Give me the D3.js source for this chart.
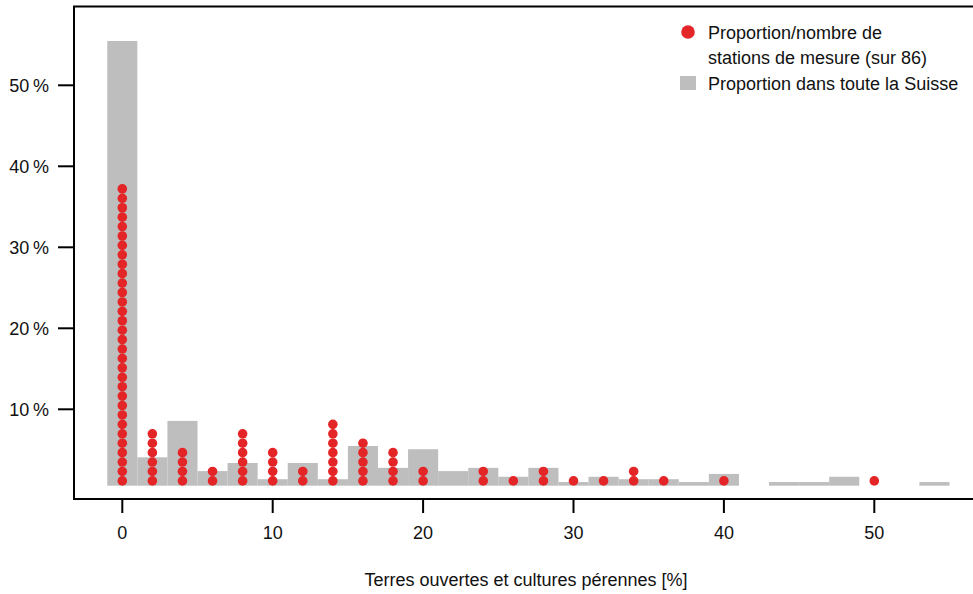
<!DOCTYPE html>
<html>
<head>
<meta charset="utf-8">
<script src="https://cdn.jsdelivr.net/npm/d3@7"></script>
<style>
  html, body { margin: 0; padding: 0; background: #fff; }
  svg { display: block; font-family: "Liberation Sans", Arial, sans-serif; }
</style>
</head>
<body>
<svg id="chart" width="973" height="594"></svg>
<script>
// Classes of "Terres ouvertes et cultures pérennes [%]" (bar centres)
const classes = [0, 2, 4, 6, 8, 10, 12, 14, 16, 18, 20, 22, 24, 26, 28, 30, 32, 34, 36, 38, 40, 42, 44, 46, 48, 50, 52, 54];
// Proportion dans toute la Suisse [%]
const suisseShare = [54.9, 3.5, 8.0, 1.8, 2.8, 0.8, 2.8, 0.8, 4.9, 2.2, 4.5, 1.8, 2.2, 1.1, 2.2, 0.45, 1.1, 0.8, 0.8, 0.45, 1.45, 0, 0.45, 0.45, 1.1, 0, 0, 0.45];
// Nombre de stations de mesure par classe (total 86)
const stationCounts = [32, 6, 4, 2, 6, 4, 2, 7, 5, 4, 2, 0, 2, 1, 2, 1, 1, 2, 1, 0, 1, 0, 0, 0, 0, 1, 0, 0];
const totalStations = 86;
const xTicks = [0, 10, 20, 30, 40, 50];
const yTicks = [10, 20, 30, 40, 50];
const legendLabels = ["Proportion/nombre de", "stations de mesure (sur 86)", "Proportion dans toute la Suisse"];
const xTitle = "Terres ouvertes et cultures pérennes [%]";

const W = 973, H = 594;
const plotLeft = 74, plotTop = 6.5, plotBottom = 499;
const barBase = 0.57; // baseline offset of the bars (in % units) as drawn in the original
const fs = 18;

const svg = d3.select("#chart");
const x = d3.scaleLinear().domain([0, 50]).range([122.3, 874.3]);
const y = d3.scaleLinear().domain([0, 50]).range([490.3, 85.3]);
const red = "#e42527", grey = "#bebebe";

// Bars
const bars = classes.map((c, i) => ({ c, v: suisseShare[i] })).filter(d => d.v > 0);
svg.append("g").selectAll("rect").data(bars).join("rect")
  .attr("x", d => x(d.c - 1))
  .attr("width", d => x(d.c + 1) - x(d.c - 1))
  .attr("y", d => y(barBase + d.v))
  .attr("height", d => y(barBase) - y(barBase + d.v))
  .attr("fill", grey);

// Dots
const dots = [];
classes.forEach((c, i) => {
  for (let k = 1; k <= stationCounts[i]; k++) dots.push({ c, p: 100 * k / totalStations });
});
svg.append("g").selectAll("circle").data(dots).join("circle")
  .attr("cx", d => x(d.c))
  .attr("cy", d => y(d.p))
  .attr("r", 4.8)
  .attr("fill", red);

// Frame (left, top, bottom; right side runs off the canvas)
const frame = svg.append("g").attr("stroke", "#000").attr("stroke-width", 2).attr("fill", "none");
frame.append("path").attr("d", `M${W + 2},${plotTop}H${plotLeft}V${plotBottom}H${W + 2}`);

// Y axis ticks
const yAxis = svg.append("g");
yAxis.selectAll("line").data(yTicks).join("line")
  .attr("x1", 58).attr("x2", plotLeft).attr("y1", d => y(d)).attr("y2", d => y(d))
  .attr("stroke", "#000").attr("stroke-width", 2);
yAxis.selectAll("text").data(yTicks).join("text")
  .attr("x", 49).attr("y", d => y(d)).attr("dy", "0.35em")
  .attr("text-anchor", "end").attr("font-size", fs).attr("fill", "#111")
  .text(d => d + "\u2009%");

// X axis ticks
const xAxis = svg.append("g");
xAxis.selectAll("line").data(xTicks).join("line")
  .attr("x1", d => x(d)).attr("x2", d => x(d)).attr("y1", plotBottom).attr("y2", 513)
  .attr("stroke", "#000").attr("stroke-width", 2);
xAxis.selectAll("text").data(xTicks).join("text")
  .attr("x", d => x(d)).attr("y", 538.5)
  .attr("text-anchor", "middle").attr("font-size", fs).attr("fill", "#111")
  .text(d => d);

svg.append("text").attr("x", 526).attr("y", 585.5)
  .attr("text-anchor", "middle").attr("font-size", fs).attr("fill", "#111")
  .text(xTitle);

// Legend
const lg = svg.append("g").attr("font-size", fs).attr("fill", "#111");
lg.append("circle").attr("cx", 688).attr("cy", 32).attr("r", 6.8).attr("fill", red);
lg.append("text").attr("x", 708).attr("y", 38.5).text(legendLabels[0]);
lg.append("text").attr("x", 708).attr("y", 63.5).text(legendLabels[1]);
lg.append("rect").attr("x", 680).attr("y", 76).attr("width", 16).attr("height", 14).attr("fill", grey);
lg.append("text").attr("x", 708).attr("y", 89.5).text(legendLabels[2]);
</script>
</body>
</html>
